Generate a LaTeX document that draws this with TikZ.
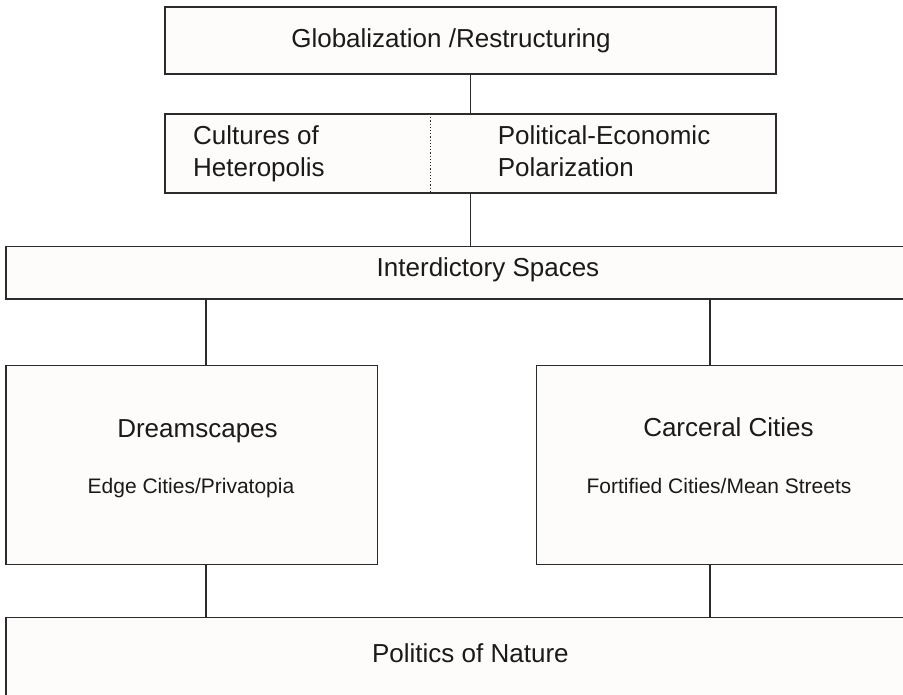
\documentclass[tikz,border=0pt]{standalone}
\usepackage{fontspec}
\setmainfont{Liberation Sans}
\usetikzlibrary{positioning}
\definecolor{boxfill}{HTML}{FDFCFA}
\definecolor{edge}{HTML}{2B2B2B}
\definecolor{ink}{HTML}{1A1A1A}

\tikzset{
  panel/.style={draw=edge, fill=boxfill, line width=1.5pt, inner sep=0pt, outer sep=0pt},
  bigtext/.style={font=\fontsize{26}{31.7}\selectfont, text=ink, inner sep=0pt, anchor=base},
  smalltext/.style={font=\fontsize{21}{25}\selectfont, text=ink, inner sep=0pt, anchor=base},
  link/.style={draw=edge, line width=1.5pt}
}

\begin{document}
\begin{tikzpicture}[x=1pt,y=-1pt]
\useasboundingbox (0,0) rectangle (903,695);

			% boxes
			\node[panel, minimum width=611, minimum height=67] (glob) at (470.5,40.5) {};
			\node[panel, minimum width=611, minimum height=79] (split) at (470.5,153.5) {};
			\node[panel, minimum width=924, minimum height=52.3] (inter) at (468,272.85) {};
			\node[panel, minimum width=371.7, minimum height=198.6] (dream) at (191.85,465) {};
			\node[panel, minimum width=393.3, minimum height=198.6] (carc) at (733.35,465) {};
			\node[panel, minimum width=924, minimum height=102.7] (nature) at (468,668.65) {};

			% texts
			\node[bigtext] (globtxt) at (451,47.3) {Globalization /Restructuring};
			\node[bigtext, anchor=base west] (cult1) at (193,145) {Cultures of};
			\node[bigtext, anchor=base west] (cult2) at (193,176.7) {Heteropolis};
			\node[bigtext, anchor=base west] (pol1) at (497.7,145) {Political-Economic};
			\node[bigtext, anchor=base west] (pol2) at (497.7,176.7) {Polarization};
			\node[bigtext] (intertxt) at (488,276.7) {Interdictory Spaces};
			\node[bigtext] (dreamtxt) at (197.5,437.3) {Dreamscapes};
			\node[smalltext] (dreamsub) at (191,493.3) {Edge Cities/Privatopia};
			\node[bigtext] (carctxt) at (728.5,436.7) {Carceral Cities};
			\node[smalltext] (carcsub) at (719,493.3) {Fortified Cities/Mean Streets};
			\node[bigtext] (naturetxt) at (470.4,662.7) {Politics of Nature};

			% divider and links
			\coordinate (div) at (430.7,0);
			\coordinate (dl) at (205.8,0);
			\coordinate (cl) at (710,0);
			\draw[edge, line width=1.2pt, dotted] (div |- split.north) -- (div |- split.south);
			\draw[link] (glob) -- (split);
			\draw[link] (split.south) -- (split.south |- inter.north);
			\draw[link] (dl |- inter.south) -- (dl |- dream.north);
			\draw[link] (cl |- inter.south) -- (cl |- carc.north);
			\draw[link] (dl |- dream.south) -- (dl |- nature.north);
			\draw[link] (cl |- carc.south) -- (cl |- nature.north);

\end{tikzpicture}
\end{document}
